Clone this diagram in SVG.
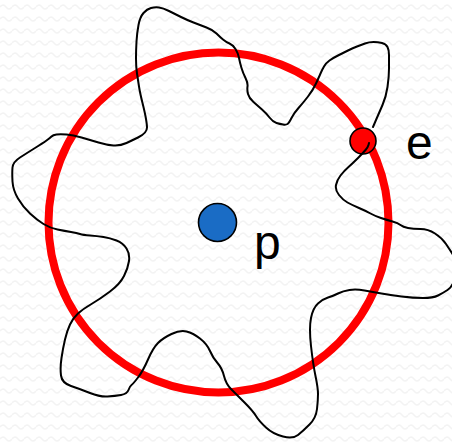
<svg xmlns="http://www.w3.org/2000/svg" width="452" height="442" viewBox="0 0 452 442">
<defs>
<pattern id="bg" width="12" height="12" patternUnits="userSpaceOnUse">
<path d="M0,7 Q3,3 6,7 T12,7" fill="none" stroke="#f3f3f3" stroke-width="1.5"/>
</pattern>
<style>
.lbl{font-family:"Liberation Sans",Arial,sans-serif;font-size:48px;fill:#000}
.dot{stroke:#000;stroke-width:1.6}
</style>
</defs>
<rect width="452" height="442" fill="#fff"/>
<rect width="452" height="442" fill="url(#bg)"/>
<g id="circle"><circle cx="218.5" cy="222.5" r="170" fill="none" stroke="#ff0000" stroke-width="8"/></g>
<g id="p"><circle class="dot" cx="217.5" cy="222.5" r="19" fill="#1a6cc5"/><text class="lbl" x="254" y="259">p</text></g>
<g id="e"><circle class="dot" cx="363" cy="141" r="13" fill="#ff0000"/><text class="lbl" x="406" y="159">e</text></g>
<g id="connectors">
<path fill="none" stroke="#000" stroke-width="2" stroke-linejoin="round" stroke-linecap="round" d="M373,127 L376,120 Q379,113 382.5,105 Q386,97 387.5,87 Q389,77 389,68.5 Q389,60 389,55 Q389,50 387.5,47 Q386,44 382,43 Q378,42 373.5,42 Q369,42 365,43.5 Q361,45 357,46.5 Q353,48 348,50.5 Q343,53 338,55.5 Q333,58 329.5,60.5 Q326,63 324,66.5 Q322,70 320.5,73.5 Q319,77 316,83.5 Q313,90 308,96.5 Q303,103 298.5,108 Q294,113 291.5,118 Q289,123 287.5,124 Q286,125 283,124.5 Q280,124 276.5,123 Q273,122 269.5,117.5 Q266,113 262,109.5 Q258,106 253.5,102 Q249,98 248,94 Q247,90 247.5,86.5 Q248,83 245.5,78 Q243,73 241.5,68 Q240,63 239,58 Q238,53 235.5,49 Q233,45 229.5,43.5 Q226,42 223,39.5 Q220,37 216.5,33.5 Q213,30 206.5,27.5 Q200,25 193.5,22.5 Q187,20 181,17 Q175,14 169,11 Q163,8 159,7.5 Q155,7 151,8 Q147,9 143.5,13 Q140,17 138.5,25 Q137,33 136.5,41.5 Q136,50 136,58.5 Q136,67 137,73.5 Q138,80 139,86.5 Q140,93 142.5,103 Q145,113 146,119 Q147,125 147,127.5 Q147,130 145,132.5 Q143,135 138,137.5 Q133,140 126.5,143 Q120,146 113.5,145.5 Q107,145 98.5,142.5 Q90,140 81.5,137.5 Q73,135 66.5,134.5 Q60,134 56.5,134.5 Q53,135 51.5,136.5 Q50,138 46.5,140.5 Q43,143 35,148 Q27,153 20,157.5 Q13,162 12.5,167.5 Q12,173 12.5,181.5 Q13,190 18,198.5 Q23,207 30,213.5 Q37,220 43.5,224 Q50,228 57.5,229.5 Q65,231 71,232 Q77,233 80,234 Q83,235 90,235.5 Q97,236 103.5,237 Q110,238 116.5,240.5 Q123,243 126.5,248.5 Q130,254 129,261 Q128,268 124,276 Q120,284 110,291.5 Q100,299 91.5,304 Q83,309 78,313.5 Q73,318 70,324.5 Q67,331 65,339.5 Q63,348 61.5,358 Q60,368 61,375.5 Q62,383 71,386 Q80,389 90,393 Q100,397 107.5,396.5 Q115,396 121,395 Q127,394 128.5,390 Q130,386 131.5,385 Q133,384 138,377.5 Q143,371 148,359.5 Q153,348 158,343 Q163,338 171.5,334 Q180,330 186.5,331.5 Q193,333 200,338.5 Q207,344 210,351 Q213,358 217.5,363 Q222,368 224,376 Q226,384 231,389 Q236,394 244.5,402.5 Q253,411 256,416 Q259,421 266,427.5 Q273,434 283,436.5 Q293,439 298,435 Q303,431 309.5,424.5 Q316,418 317,409 Q318,400 318,394 Q318,388 315.5,376 Q313,364 311,346 Q309,328 311,318 Q313,308 318,303.5 Q323,299 328,297.5 Q333,296 338,293.5 Q343,291 349.5,290 Q356,289 364.5,290.5 Q373,292 381.5,293.5 Q390,295 401.5,296.5 Q413,298 423,298 Q433,298 438,295.5 Q443,293 447.5,290 Q452,287 454,281 Q456,275 455.5,266.5 Q455,258 452.5,254 Q450,250 446,244 Q442,238 435,233.5 Q428,229 420.5,229 Q413,229 408,228 Q403,227 400.5,225 Q398,223 392.5,221.5 Q387,220 381,218 Q375,216 370.5,213.5 Q366,211 359,208 Q352,205 347.5,202.5 Q343,200 339,195 Q335,190 336,185 Q337,180 340.5,175.5 Q344,171 348.5,167 Q353,163 358,158 Q363,153 365.5,150 Q368,147 368.5,145 L369,143"/>
</g>
</svg>
